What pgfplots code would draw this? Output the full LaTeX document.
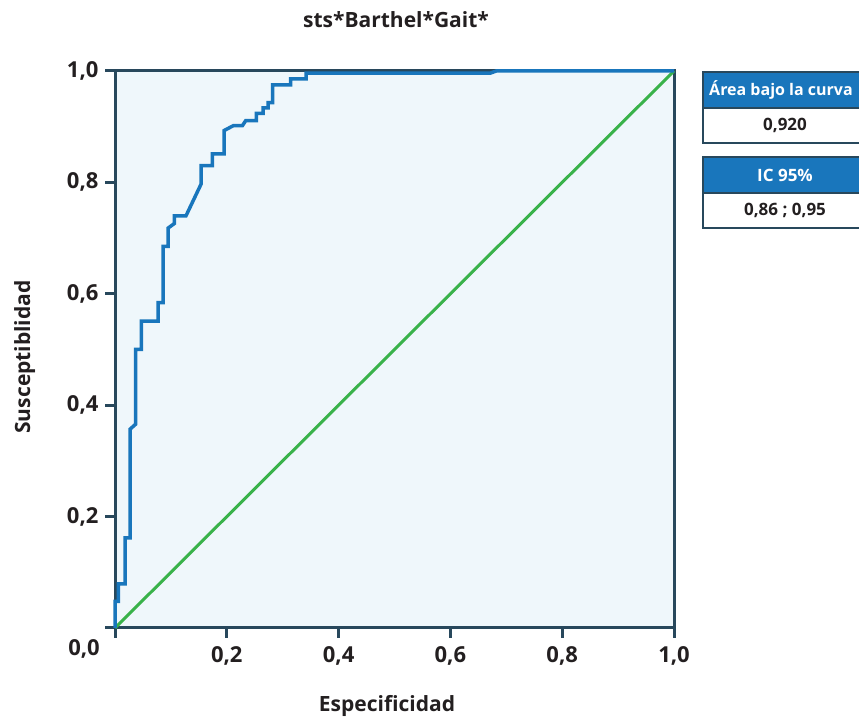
\documentclass[border=0pt]{standalone}
\usepackage{fontspec}
\setmainfont{Open Sans}
\usepackage{pgfplots}
\pgfplotsset{compat=1.18}
\definecolor{rocblue}{RGB}{25,118,188}
\definecolor{axdark}{RGB}{40,72,92}
\definecolor{bgblue}{RGB}{239,247,251}
\definecolor{diaggreen}{RGB}{57,178,74}
\definecolor{txt}{RGB}{35,31,32}
\begin{document}
\begin{tikzpicture}
\path[use as bounding box] (0pt,0pt) rectangle (859pt,722pt);
\begin{axis}[
  at={(115pt,94pt)}, anchor=south west,
  scale only axis, width=559pt, height=557pt,
  xmin=0, xmax=1, ymin=0, ymax=1,
  axis line style={axdark, line width=3pt},
  axis background/.style={fill=bgblue},
  tick align=outside, tick pos=left,
  major tick length=10pt,
  every tick/.style={axdark, line width=3pt},
  xtick={0,0.2,0.4,0.6,0.8,1},
  xticklabels={{},{0,2},{0,4},{0,6},{0,8},{1,0}},
  ytick={0,0.2,0.4,0.6,0.8,1},
  yticklabels={{},{0,2},{0,4},{0,6},{0,8},{1,0}},
  ticklabel style={font=\fontsize{22}{26}\selectfont\bfseries, text=txt},
  xticklabel style={yshift=-5pt},
  yticklabel style={xshift=-3pt},
  clip=false,
]
\addplot[diaggreen, line width=3pt] coordinates {(0,0) (1,1)};
\addplot[rocblue, line width=3.5pt, line join=miter] coordinates {
(0,0) (0,0.048) (0.006,0.048) (0.006,0.079) (0.018,0.079) (0.018,0.162)
(0.027,0.162) (0.027,0.357) (0.037,0.366) (0.037,0.5) (0.047,0.5)
(0.047,0.551) (0.077,0.551) (0.077,0.584) (0.086,0.584) (0.086,0.685)
(0.095,0.685) (0.095,0.718) (0.106,0.726) (0.106,0.740) (0.127,0.740)
(0.154,0.797) (0.154,0.830) (0.174,0.830) (0.174,0.851) (0.195,0.851)
(0.195,0.893) (0.212,0.902) (0.228,0.902) (0.234,0.911) (0.253,0.911)
(0.253,0.924) (0.265,0.924) (0.265,0.934) (0.274,0.934) (0.274,0.943)
(0.282,0.943) (0.282,0.975) (0.314,0.975) (0.314,0.986) (0.342,0.986)
(0.342,0.996) (0.671,0.996) (0.682,1.0) (1,1)};
\end{axis}
\node[anchor=base, text=txt, font=\fontsize{21}{25}\selectfont\bfseries] at (396pt,694pt) {sts*Barthel*Gait*};
\node[anchor=base, text=txt, font=\fontsize{21}{25}\selectfont\bfseries] at (387pt,10pt) {Especificidad};
\node[anchor=base, rotate=90, text=txt, font=\fontsize{21}{25}\selectfont\bfseries] at (30pt,365pt) {Susceptiblidad};
\node[anchor=base east, text=txt, font=\fontsize{22}{26}\selectfont\bfseries, inner sep=0pt] at (100pt,66pt) {0,0};
% info boxes
\fill[rocblue] (703pt,614pt) rectangle (867pt,650pt);
\fill[white] (703pt,579pt) rectangle (867pt,614pt);
\draw[axdark, line width=2.2pt] (703pt,579pt) rectangle (867pt,650pt);
\draw[axdark, line width=2.2pt] (703pt,614pt) -- (867pt,614pt);
\node[text=white, font=\fontsize{16}{19}\selectfont\bfseries, anchor=west, inner sep=0pt] at (709pt,632pt) {Área bajo la curva};
\node[text=txt, font=\fontsize{17}{20}\selectfont\bfseries] at (785pt,596.5pt) {0,920};
\fill[rocblue] (703pt,529pt) rectangle (867pt,565pt);
\fill[white] (703pt,494pt) rectangle (867pt,529pt);
\draw[axdark, line width=2.2pt] (703pt,494pt) rectangle (867pt,565pt);
\draw[axdark, line width=2.2pt] (703pt,529pt) -- (867pt,529pt);
\node[text=white, font=\fontsize{17}{20}\selectfont\bfseries] at (785pt,547pt) {IC 95\%};
\node[text=txt, font=\fontsize{17}{20}\selectfont\bfseries] at (785pt,511.5pt) {0,86 ; 0,95};
\end{tikzpicture}
\end{document}
